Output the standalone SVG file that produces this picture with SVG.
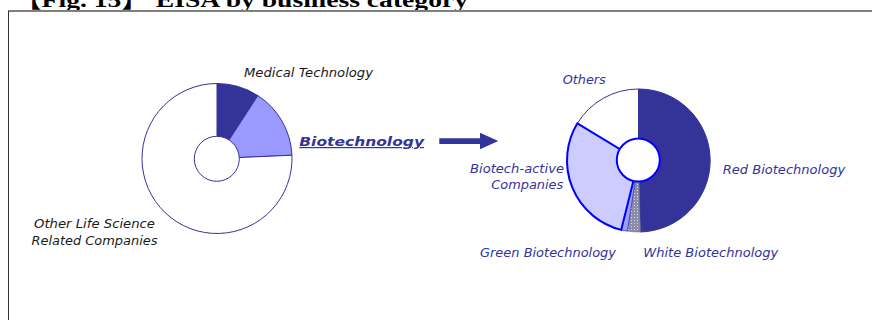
<svg xmlns="http://www.w3.org/2000/svg" width="872" height="320" viewBox="0 0 872 320">
<style>
.lbl{font-family:"DejaVu Sans","Liberation Sans",sans-serif;font-style:italic;font-size:12px}
.dark{fill:#1a1a1a}
.blue{fill:#333399}
.edge{stroke:#333399;stroke-width:1}
</style>
<defs>
<pattern id="hatch" width="3" height="3" patternUnits="userSpaceOnUse">
<rect width="3" height="3" fill="#8c8ca6"/>
<rect x="1" y="1" width="1" height="1" fill="#d8d8e6"/>
</pattern>
</defs>
<rect width="872" height="320" fill="#ffffff"/>
<text x="14" y="7" font-family="'Liberation Serif','Noto Sans CJK JP',serif" font-weight="bold" font-size="22" textLength="454" lengthAdjust="spacingAndGlyphs" fill="#000">【Fig. 15】 EISA by business category</text>
<g id="frame">
<line x1="8" y1="11" x2="872" y2="11" stroke="#7f7f7f" stroke-width="2"/>
<line x1="8.5" y1="11" x2="8.5" y2="320" stroke="#333333" stroke-width="1"/>
</g>
<g id="left-pie">
<path class="edge" fill="#333399" d="M217,158.5 L217,83.5 A75,75 0 0,1 257.85,95.6 Z"/>
<path class="edge" fill="#9999ff" d="M217,158.5 L257.85,95.6 A75,75 0 0,1 291.93,155.23 Z"/>
<path class="edge" fill="#ffffff" d="M217,158.5 L291.93,155.23 A75,75 0 1,1 217,83.5 Z"/>
<circle class="edge" cx="216.8" cy="158.8" r="22.5" fill="#ffffff"/>
</g>
<g id="right-pie">
<path class="edge" fill="#333399" d="M638.5,160.5 L638.5,89 A71.5,71.5 0 0,1 640.37,231.98 Z"/>
<path fill="url(#hatch)" stroke="#6a6a90" stroke-width="0.6" d="M638.5,160.5 L640.37,231.98 A71.5,71.5 0 0,1 627.32,231.12 Z"/>
<path fill="#9f9ff5" stroke="#3333cc" stroke-width="0.8" d="M638.5,160.5 L627.32,231.12 A71.5,71.5 0 0,1 621.2,229.88 Z"/>
<path class="edge" fill="#ffffff" d="M638.5,160.5 L577.41,123.35 A71.5,71.5 0 0,1 638.5,89 Z"/>
<path fill="#ccccff" stroke="#0000ff" stroke-width="2" d="M638.5,160.5 L621.2,229.88 A71.5,71.5 0 0,1 577.41,123.35 Z"/>
<circle cx="638.3" cy="160" r="21.5" fill="#ffffff" stroke="#0000ff" stroke-width="2"/>
</g>
<g id="connectors">
<polygon fill="#333399" points="439.3,138.3 480,138.3 480,132.7 498.3,141 480,149.3 480,144 439.3,144"/>
</g>
<g id="label-medical"><text class="lbl dark" x="244" y="77" textLength="129" lengthAdjust="spacingAndGlyphs">Medical Technology</text></g>
<g id="label-other-life">
<text class="lbl dark" x="94.5" y="228.3" text-anchor="middle" textLength="121" lengthAdjust="spacingAndGlyphs">Other Life Science</text>
<text class="lbl dark" x="94.5" y="244.5" text-anchor="middle" textLength="126" lengthAdjust="spacingAndGlyphs">Related Companies</text>
</g>
<g id="label-biotech"><text class="lbl blue" x="299.3" y="146" font-weight="bold" font-size="13.5" text-decoration="underline" textLength="124.7" lengthAdjust="spacingAndGlyphs">Biotechnology</text></g>
<g id="label-others"><text class="lbl blue" x="562.7" y="84" textLength="43" lengthAdjust="spacingAndGlyphs">Others</text></g>
<g id="label-biotech-active">
<text class="lbl blue" x="564" y="173.3" text-anchor="end" textLength="94" lengthAdjust="spacingAndGlyphs">Biotech-active</text>
<text class="lbl blue" x="563.3" y="189.3" text-anchor="end" textLength="72" lengthAdjust="spacingAndGlyphs">Companies</text>
</g>
<g id="label-red"><text class="lbl blue" x="722.7" y="173.5" textLength="122.5" lengthAdjust="spacingAndGlyphs">Red Biotechnology</text></g>
<g id="label-green"><text class="lbl blue" x="480" y="256.7" textLength="136" lengthAdjust="spacingAndGlyphs">Green Biotechnology</text></g>
<g id="label-white"><text class="lbl blue" x="643.3" y="256.7" textLength="135" lengthAdjust="spacingAndGlyphs">White Biotechnology</text></g>
</svg>
